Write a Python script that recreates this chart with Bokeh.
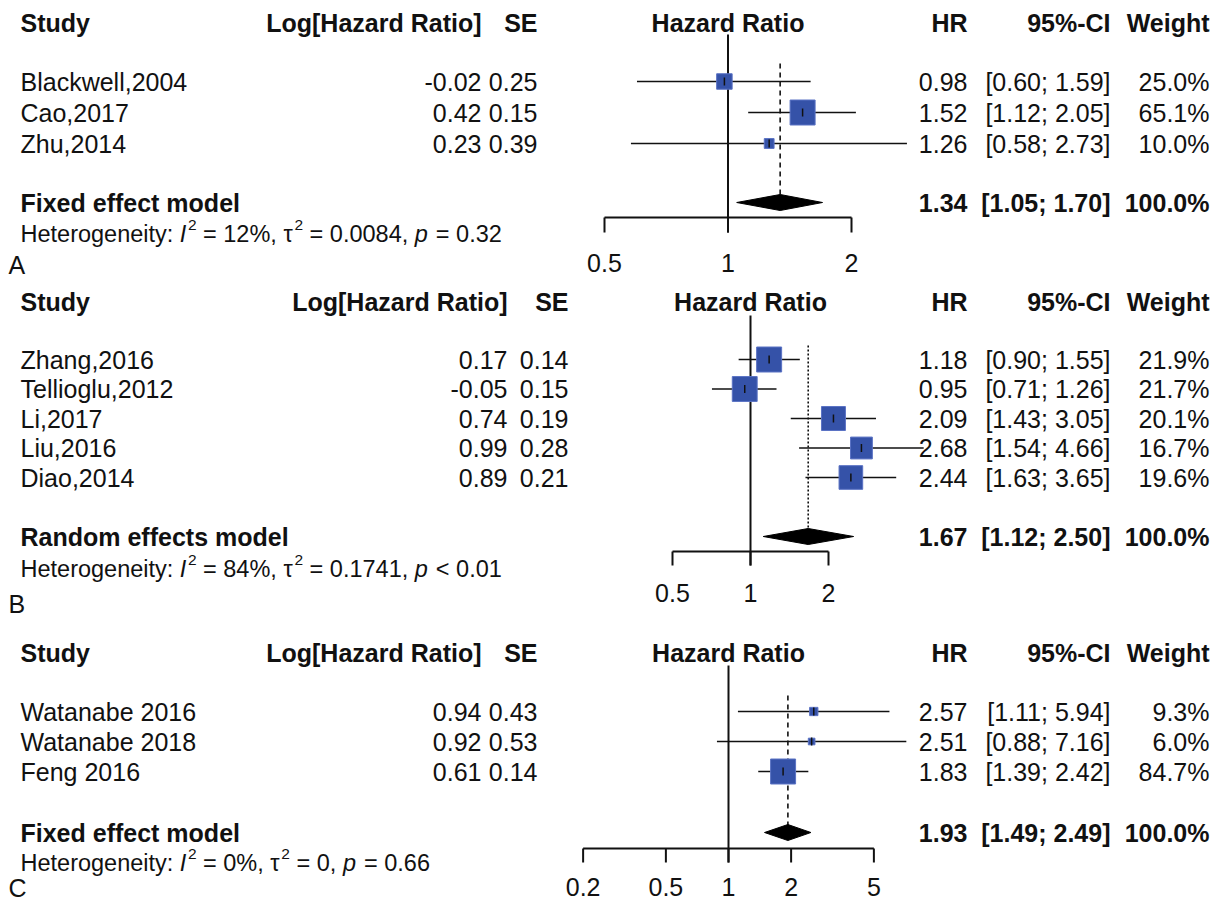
import math
from bokeh.plotting import figure
from bokeh.models import Range1d, LogScale
from bokeh.core.properties import value
from bokeh.embed import file_html
from bokeh.resources import INLINE

# ---------------- data ----------------
a_study = ["Blackwell,2004", "Cao,2017", "Zhu,2014"]
a_loghr = [-0.02, 0.42, 0.23]
a_se = [0.25, 0.15, 0.39]
a_hr = [0.98, 1.52, 1.26]
a_lower = [0.60, 1.12, 0.58]
a_upper = [1.59, 2.05, 2.73]
a_weight = [25.0, 65.1, 10.0]
a_model = "Fixed effect model"
a_pooled = [1.34, 1.05, 1.70]
a_i2 = "12%"
a_tau2 = "0.0084"
a_p = "= 0.32"
a_ticks = [0.5, 1, 2]
a_letter = "A"

b_study = ["Zhang,2016", "Tellioglu,2012", "Li,2017", "Liu,2016", "Diao,2014"]
b_loghr = [0.17, -0.05, 0.74, 0.99, 0.89]
b_se = [0.14, 0.15, 0.19, 0.28, 0.21]
b_hr = [1.18, 0.95, 2.09, 2.68, 2.44]
b_lower = [0.90, 0.71, 1.43, 1.54, 1.63]
b_upper = [1.55, 1.26, 3.05, 4.66, 3.65]
b_weight = [21.9, 21.7, 20.1, 16.7, 19.6]
b_model = "Random effects model"
b_pooled = [1.67, 1.12, 2.50]
b_i2 = "84%"
b_tau2 = "0.1741"
b_p = "< 0.01"
b_ticks = [0.5, 1, 2]
b_letter = "B"

c_study = ["Watanabe 2016", "Watanabe 2018", "Feng 2016"]
c_loghr = [0.94, 0.92, 0.61]
c_se = [0.43, 0.53, 0.14]
c_hr = [2.57, 2.51, 1.83]
c_lower = [1.11, 0.88, 1.39]
c_upper = [5.94, 7.16, 2.42]
c_weight = [9.3, 6.0, 84.7]
c_model = "Fixed effect model"
c_pooled = [1.93, 1.49, 2.49]
c_i2 = "0%"
c_tau2 = "0"
c_p = "= 0.66"
c_ticks = [0.2, 0.5, 1, 2, 5]
c_letter = "C"

headers = ["Study", "Log[Hazard Ratio]", "SE", "Hazard Ratio", "HR", "95%-CI", "Weight"]

# ---------------- layout ----------------
W, H = 1220, 902
FONT = value("Liberation Sans")
FS = "25px"
HET_PX = 23.5
SUP_PX = 15.5
INK = "#111111"
BOX = "#3552A8"

p = figure(width=W, height=H, x_range=Range1d(0, W), y_range=Range1d(H, 0),
           x_axis_location=None, y_axis_location=None, toolbar_location=None,
           output_backend="svg", min_border=0, outline_line_color=None)
p.grid.visible = False
p.background_fill_color = "white"
p.border_fill_color = "white"

AW = {' ': 278, ':': 278, ',': 278, '.': 278, '=': 584, '<': 584, '%': 889, 'H': 722,
      'e': 556, 't': 278, 'r': 333, 'o': 556, 'g': 556, 'n': 556, 'i': 222, 'y': 500,
      'I': 278, 'p': 556, '\u03c4': 470}


def tw(s, px):
    return sum(AW.get(ch, 556) for ch in s) / 1000.0 * px


def txt(x, y, t, align="left", bold=False, size=FS, italic=False, rng=None):
    kw = {}
    if rng:
        kw["x_range_name"] = rng
    style = "bold" if bold else ("italic" if italic else "normal")
    p.text(x=x, y=y, text=t, text_font=FONT, text_font_size=size,
           text_font_style=style, text_align=align, text_baseline="middle",
           text_color=INK, **kw)


def panel(key, study, loghr, se, hr, lo, hi, wt, model, pooled, i2, tau2, pval,
          ticks, letter, L):
    rng = "hr_" + key
    start = 2 ** ((0 - L["x1"]) / L["ppd"])
    end = 2 ** ((W - L["x1"]) / L["ppd"])
    p.extra_x_ranges[rng] = Range1d(start, end)
    p.extra_x_scales[rng] = LogScale()

    n = len(study)
    ys = [L["row0"] + i * L["step"] for i in range(n)]
    hy = L["header"]

    # headers
    txt([L["name"]], [hy], [headers[0]], bold=True)
    txt([L["lhr"]], [hy], [headers[1]], align="right", bold=True)
    txt([L["se"]], [hy], [headers[2]], align="right", bold=True)
    txt([1], [hy], [headers[3]], align="center", bold=True, rng=rng)
    txt([L["hr"]], [hy], [headers[4]], align="right", bold=True)
    txt([L["ci"]], [hy], [headers[5]], align="right", bold=True)
    txt([L["w"]], [hy], [headers[6]], align="right", bold=True)

    # reference line at 1 and pooled line
    p.segment(x0=[1], x1=[1], y0=[L["vtop"]], y1=[L["tickbot"]], x_range_name=rng,
              line_color=INK, line_width=2)
    p.segment(x0=[pooled[0]], x1=[pooled[0]], y0=[L["dtop"]], y1=[L["model"]],
              x_range_name=rng, line_color=INK, line_width=1.6, line_dash=L["dash"])

    # study rows
    p.segment(x0=lo, x1=hi, y0=ys, y1=ys, x_range_name=rng, line_color=INK, line_width=1.6)
    wmax = max(wt)
    sizes = [L["box"] * math.sqrt(w / wmax) for w in wt]
    p.scatter(x=hr, y=ys, size=sizes, marker="square", x_range_name=rng,
              fill_color=BOX, line_color="#5a72c4", line_width=1)
    p.segment(x0=hr, x1=hr, y0=[y - 4 for y in ys], y1=[y + 4 for y in ys],
              x_range_name=rng, line_color=INK, line_width=1.5)

    # diamond
    my = L["model"]
    p.patch(x=[pooled[1], pooled[0], pooled[2], pooled[0]],
            y=[my, my - 8, my, my + 8], x_range_name=rng,
            fill_color="black", line_color="black", line_width=1)

    # axis
    p.segment(x0=[min(ticks)], x1=[max(ticks)], y0=[L["axis"]], y1=[L["axis"]],
              x_range_name=rng, line_color=INK, line_width=2)
    p.segment(x0=ticks, x1=ticks, y0=[L["axis"]] * len(ticks), y1=[L["tickbot"]] * len(ticks),
              x_range_name=rng, line_color=INK, line_width=2)
    txt(ticks, [L["ticklab"]] * len(ticks), [("%g" % t) for t in ticks], align="center", rng=rng)

    # row texts
    txt([L["name"]] * n, ys, study)
    txt([L["lhr"]] * n, ys, ["%.2f" % v for v in loghr], align="right")
    txt([L["se"]] * n, ys, ["%.2f" % v for v in se], align="right")
    txt([L["hr"]] * n, ys, ["%.2f" % v for v in hr], align="right")
    txt([L["ci"]] * n, ys, ["[%.2f; %.2f]" % (a, b) for a, b in zip(lo, hi)], align="right")
    txt([L["w"]] * n, ys, ["%.1f%%" % v for v in wt], align="right")

    # model row
    txt([L["name"]], [my], [model], bold=True)
    txt([L["hr"]], [my], ["%.2f" % pooled[0]], align="right", bold=True)
    txt([L["ci"]], [my], ["[%.2f; %.2f]" % (pooled[1], pooled[2])], align="right", bold=True)
    txt([L["w"]], [my], ["%.1f%%" % 100.0], align="right", bold=True)

    # heterogeneity line: pieces with italics and raised superscripts
    hz = L["het"]
    segs = [("Heterogeneity: ", "normal", HET_PX, 0), ("I", "italic", HET_PX, 0),
            ("2", "normal", SUP_PX, -9), (" = " + i2 + ", ", "normal", HET_PX, 0),
            ("\u03c4", "normal", HET_PX, 0), ("2", "normal", SUP_PX, -9),
            (" = " + tau2 + ", ", "normal", HET_PX, 0), ("p", "italic", HET_PX, 0),
            (" " + pval, "normal", HET_PX, 0)]
    x = L["name"]
    for s, st, px, dy in segs:
        lead = len(s) - len(s.lstrip(" "))
        x += tw(" " * lead, px)
        body = s.lstrip(" ")
        p.text(x=[x], y=[hz + dy], text=[body], text_font=FONT, text_font_size="%.1fpx" % px,
               text_font_style=st, text_align="left", text_baseline="middle", text_color=INK)
        x += tw(body, px) + (1.5 if st == "italic" else 0)

    # letter
    txt([L["letter_x"]], [L["letter"]], [letter])


common = dict(name=20, letter_x=8, hr=967, ci=1110, w=1209, box=25)

LA = dict(common, header=22, row0=81, step=31, model=202, het=233, letter=264,
          vtop=34, dtop=63, axis=217, tickbot=232, ticklab=262,
          x1=727.5, ppd=123.5, lhr=481, se=537, dash="5 4")
LB = dict(common, header=301, row0=359, step=29.5, model=536, het=568, letter=603,
          vtop=315, dtop=345, axis=551, tickbot=565, ticklab=592,
          x1=750, ppd=78, lhr=507, se=568, dash="2 2")
LC = dict(common, header=652, row0=711, step=30, model=832, het=862, letter=887,
          vtop=665, dtop=695, axis=848, tickbot=862, ticklab=886,
          x1=728, ppd=208 * math.log10(2), lhr=481, se=537, dash="5 4")

panel("a", a_study, a_loghr, a_se, a_hr, a_lower, a_upper, a_weight, a_model, a_pooled,
      a_i2, a_tau2, a_p, a_ticks, a_letter, LA)
panel("b", b_study, b_loghr, b_se, b_hr, b_lower, b_upper, b_weight, b_model, b_pooled,
      b_i2, b_tau2, b_p, b_ticks, b_letter, LB)
panel("c", c_study, c_loghr, c_se, c_hr, c_lower, c_upper, c_weight, c_model, c_pooled,
      c_i2, c_tau2, c_p, c_ticks, c_letter, LC)

open("out.html", "w").write(file_html(p, INLINE))
